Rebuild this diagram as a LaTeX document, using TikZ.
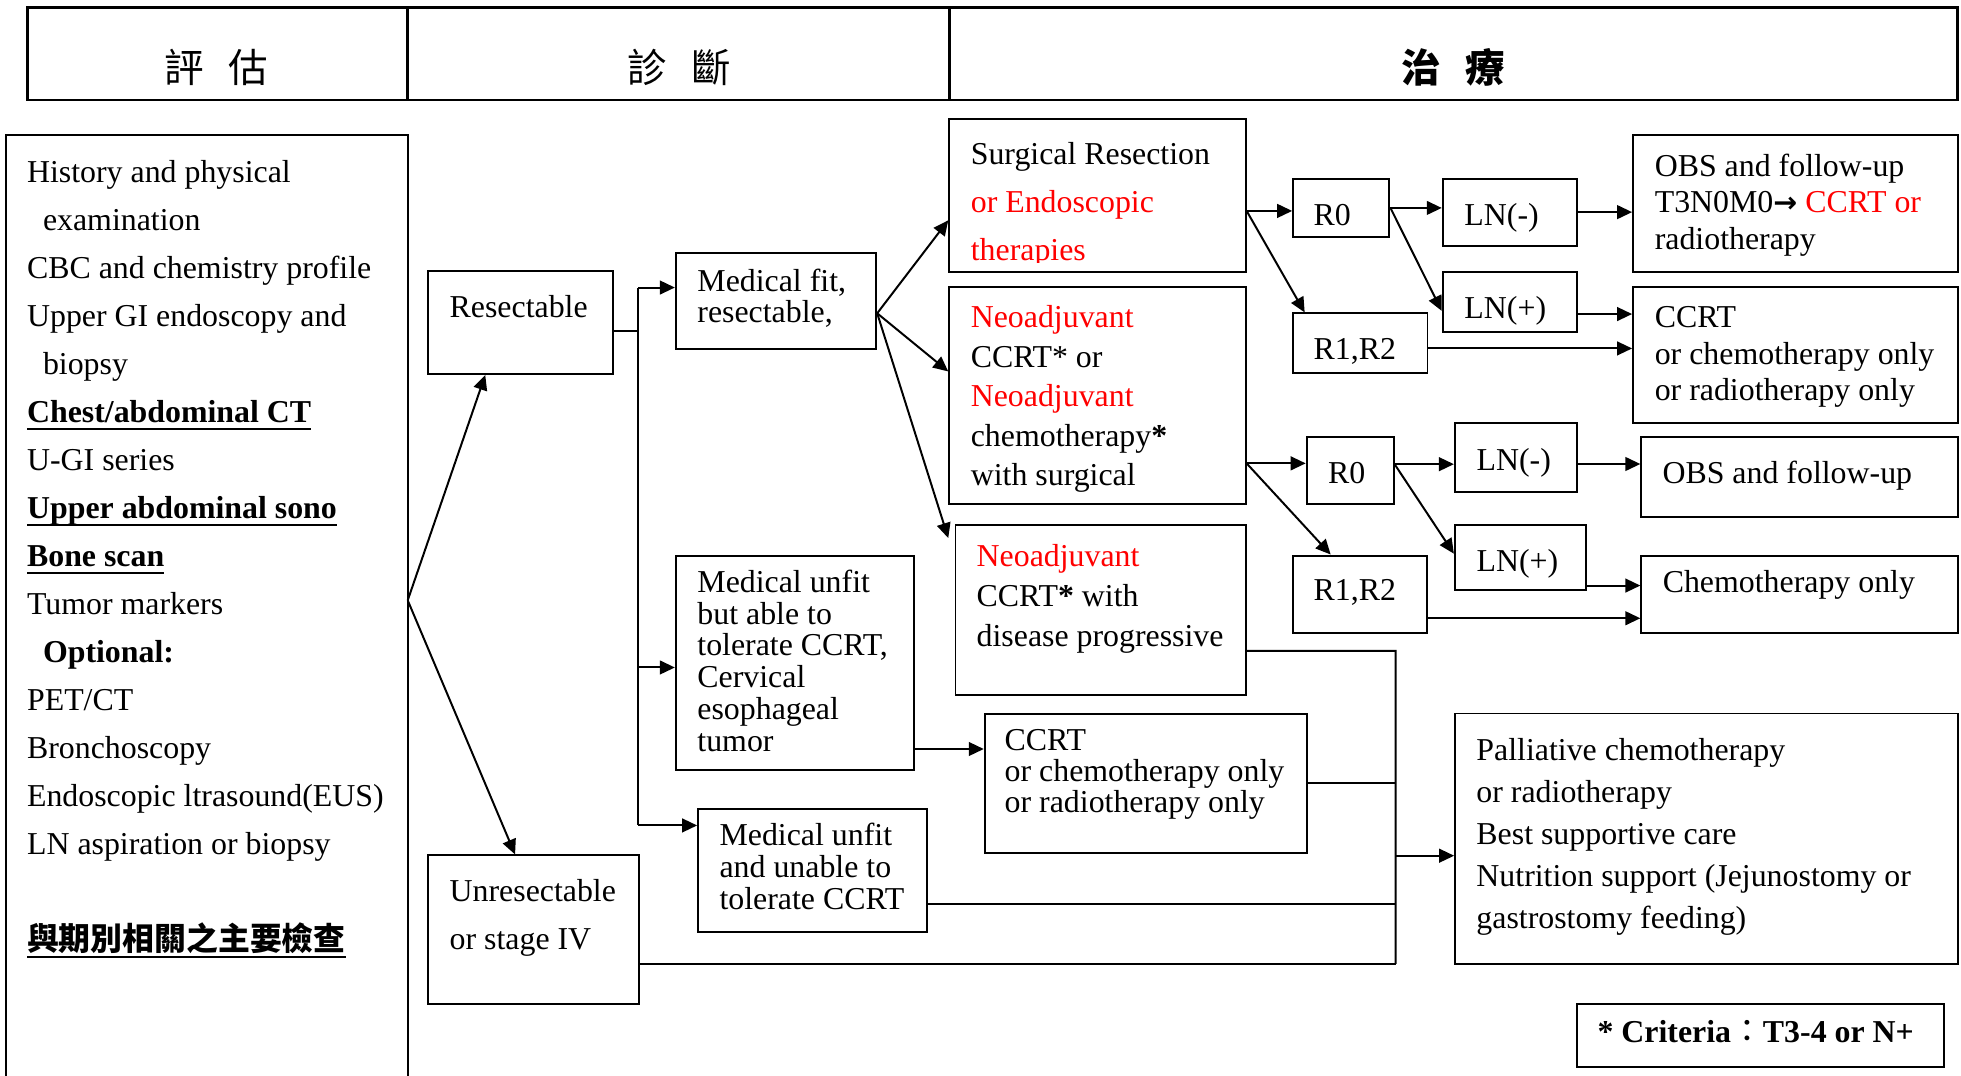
\documentclass[tikz,border=0pt]{standalone}
\usepackage{fontspec}
\setmainfont{Liberation Serif}
\newfontfamily\cjk{Noto Sans CJK TC}
\newfontfamily\symf{DejaVu Sans}
\usetikzlibrary{arrows.meta,fit,positioning}
\newsavebox\ulbox
\newcommand{\undl}[1]{\sbox\ulbox{#1}\rlap{\rule[-3.4pt]{\wd\ulbox}{1.1pt}}\usebox\ulbox}
\newcommand{\rd}[1]{\textcolor{red}{#1}}

\begin{document}
\begin{tikzpicture}[x=0.02cm, y=-0.02cm,
    box/.style={draw, line width=0.9pt, inner sep=0pt},
    txt/.style={anchor=north west, inner sep=0pt, align=left, font=\fontsize{14.5}{#1}\selectfont},
    txt/.default=17,
    hd/.style={inner sep=0pt, font=\cjk\fontsize{18}{20}\selectfont},
    ln/.style={line width=0.9pt},
    arr/.style={line width=0.9pt, -{Triangle[length=0.24cm, width=0.22cm]}}]
\useasboundingbox (0,0) rectangle (1568,860);

\node[box, line width=1.2pt, fit={(22,6) (326,80)}] (h1) {};
\node[box, line width=1.2pt, fit={(326,6) (759,80)}] (h2) {};
\node[box, line width=1.2pt, fit={(759,6) (1565,80)}] (h3) {};
\node[hd] (h1t) at (173,54) {評\hspace{0.4cm}估};
\node[hd] (h2t) at (543,54) {診\hspace{0.4cm}斷};
\node[hd, font=\cjk\bfseries\fontsize{18}{20}\selectfont] (h3t) at (1162,54) {治\hspace{0.4cm}療};

\node[box, fit={(5,108) (326,900)}] (lbox) {};
\node[txt=21.85] (lboxt) at (21.3,127.8) {History and physical\\
\hspace{0.5em}examination\\
CBC and chemistry profile\\
Upper GI endoscopy and\\
\hspace{0.5em}biopsy\\
\textbf{\undl{Chest/abdominal CT}}\\
U-GI series\\
\textbf{\undl{Upper abdominal sono}}\\
\textbf{\undl{Bone scan}}\\
Tumor markers\\
\hspace{0.5em}\textbf{Optional:}\\
PET/CT\\
Bronchoscopy\\
Endoscopic ltrasound(EUS)\\
LN aspiration or biopsy\\[21.85pt]
{\cjk\bfseries\undl{與期別相關之主要檢查}}};

\node[box, fit={(342,217) (490,299)}] (res) {};
\node[txt] (rest) at (359.2,235.8) {Resectable};
\node[box, fit={(342,684) (510.7,802.4)}] (unres) {};
\node[txt=22] (unrest) at (359.2,702.5) {Unresectable\\or stage IV};
\node[box, fit={(540.4,202) (700.6,279)}] (mfit) {};
\node[txt=14.4] (mfitt) at (557.3,214.5) {Medical fit,\\resectable,};
\node[box, fit={(540.4,444.4) (731.2,615.4)}] (unfitA) {};
\node[txt=14.5] (unfitAt) at (557.3,455.2) {Medical unfit\\but able to\\tolerate CCRT,\\Cervical\\esophageal\\tumor};
\node[box, fit={(558.2,647.2) (741.6,745)}] (unfitB) {};
\node[txt=14.5] (unfitBt) at (575,658.1) {Medical unfit\\and unable to\\tolerate CCRT};

\node[box, fit={(759,95) (996,217.3)}] (surg) {};
\begin{scope}
\clip (759,95) rectangle (996,209.5);
\node[txt=21.85] (surgt) at (775.9,113.7) {Surgical Resection\\\rd{or Endoscopic}\\\rd{therapies}};
\end{scope}
\node[box, fit={(759,229.3) (996,402.7)}] (neoA) {};
\node[txt=18] (neoAt) at (775.9,243.8) {\rd{Neoadjuvant}\\CCRT* or\\\rd{Neoadjuvant}\\chemotherapy\textbf{*}\\with surgical};
\node[box, fit={(764,420) (996,555.8)}] (neoB) {};
\node[txt=18.15] (neoBt) at (780.6,434.8) {\rd{Neoadjuvant}\\CCRT\textbf{*} with\\disease progressive};
\node[box, fit={(787.4,570.8) (1045.3,681.7)}] (ccrtM) {};
\node[txt=14.2] (ccrtMt) at (803,582.9) {CCRT\\or chemotherapy only\\or radiotherapy only};

\node[box, fit={(1034,143.2) (1111,189.3)}] (rzA) {};
\node[txt] (rzAt) at (1050,162.8) {R0};
\node[box, fit={(1034,250.6) (1141.4,298.6)}] (rrA) {};
\node[txt] (rrAt) at (1050,269.9) {R1,R2};
\node[box, fit={(1153.6,142.9) (1261.3,196.3)}] (lnnA) {};
\node[txt] (lnnAt) at (1170.6,162.3) {LN(-)};
\node[box, fit={(1153.6,217.1) (1261.3,265.1)}] (lnpA) {};
\node[txt] (lnpAt) at (1170.6,236.6) {LN(+)};
\node[box, fit={(1305.8,107.7) (1565.3,217.1)}] (obsA) {};
\node[txt=16.7] (obsAt) at (1322.8,122.5) {OBS and follow-up\\T3N0M0{\symf\bfseries\fontsize{13}{16}\selectfont →} \rd{CCRT or}\\radiotherapy};
\node[box, fit={(1305.8,229.4) (1565.3,338.6)}] (ccrtR) {};
\node[txt=16.7] (ccrtRt) at (1322.8,244.5) {CCRT\\or chemotherapy only\\or radiotherapy only};

\node[box, fit={(1044.8,349.4) (1114.3,402.9)}] (rzB) {};
\node[txt] (rzBt) at (1061.5,369.1) {R0};
\node[box, fit={(1163.3,338.6) (1261.3,393.4)}] (lnnB) {};
\node[txt] (lnnBt) at (1180.3,358) {LN(-)};
\node[box, fit={(1163.3,420) (1267.9,471.4)}] (lnpB) {};
\node[txt] (lnpBt) at (1180.3,438.9) {LN(+)};
\node[box, fit={(1033.8,444.2) (1141.2,506.5)}] (rrB) {};
\node[txt] (rrBt) at (1050,462.8) {R1,R2};
\node[box, fit={(1312.4,349.4) (1565.3,413.7)}] (obsB) {};
\node[txt] (obsBt) at (1329,368.2) {OBS and follow-up};
\node[box, fit={(1312.4,444.2) (1565.3,506.5)}] (chemo) {};
\node[txt] (chemot) at (1329.2,456) {Chemotherapy only};
\node[box, fit={(1163.5,570.5) (1565.5,771)}] (pall) {};
\node[txt=19.2] (pallt) at (1180.2,589.7) {Palliative chemotherapy\\or radiotherapy\\Best supportive care\\Nutrition support (Jejunostomy or\\gastrostomy feeding)};
\node[box, fit={(1261,802.7) (1554.7,853.5)}] (crit) {};
\node[txt, font=\bfseries\fontsize{14.5}{17}\selectfont] (critt) at (1277,815.5) {* Criteria{\cjk\mdseries ：}T3-4 or N+};

\coordinate (split) at (326,480);
\draw[arr] (split) -- ([xshift=-0.56cm]res.south);
\draw[arr] (split) -- ([xshift=-0.29cm]unres.north);

\coordinate (tR) at (510.4,264.5);
\coordinate (tA) at (510.4,229.9);
\coordinate (tB) at (510.4,533.7);
\coordinate (tC) at (510.4,660);
\draw[ln] (res.east |- tR) -- (tR);
\draw[ln] (tA) -- (tC);
\draw[arr] (tA) -- (tA -| mfit.west);
\draw[arr] (tB) -- (tB -| unfitA.west);
\draw[arr] (tC) -- (tC -| unfitB.west);

\coordinate (fo) at ([yshift=-0.2cm]mfit.east);
\draw[arr] (fo) -- ([yshift=-0.4cm]surg.west);
\draw[arr] (fo) -- ([yshift=0.38cm]neoA.west);
\draw[arr] (fo) -- ([xshift=-0.1cm,yshift=-0.22cm]neoB.north west);

\coordinate (so) at ([yshift=-0.25cm]surg.east);
\draw[arr] (so) -- (so -| rzA.west);
\draw[arr] (so) -- ([xshift=0.2cm]rrA.north west);
\draw[arr] (rzA.east) -- (rzA.east -| lnnA.west);
\draw[arr] (rzA.east) -- ([yshift=-0.15cm]lnpA.west);
\draw[arr] (lnnA.east) -- (lnnA.east -| obsA.west);
\coordinate (pa) at ([yshift=-0.2cm]lnpA.east);
\draw[arr] (pa) -- (pa -| ccrtR.west);
\coordinate (qa) at ([yshift=-0.08cm]rrA.east);
\draw[arr] (qa) -- (qa -| ccrtR.west);

\coordinate (no) at ([yshift=-1.09cm]neoA.east);
\draw[arr] (no) -- (no -| rzB.west);
\draw[arr] (no) -- ([xshift=0.62cm]rrB.north west);
\coordinate (rb) at ([yshift=0.1cm]rzB.east);
\draw[arr] (rb) -- (rb -| lnnB.west);
\draw[arr] (rb) -- ([yshift=0.06cm]lnpB.west);
\coordinate (nb) at ([yshift=-0.1cm]lnnB.east);
\draw[arr] (nb) -- (nb -| obsB.west);
\coordinate (pb) at ([yshift=-0.45cm]lnpB.east);
\draw[arr] (pb) -- (pb -| chemo.west);
\coordinate (qb) at ([yshift=-0.38cm]rrB.east);
\draw[arr] (qb) -- (qb -| chemo.west);

\coordinate (ua) at ([yshift=-1.38cm]unfitA.east);
\draw[arr] (ua) -- (ua -| ccrtM.west);

\coordinate (vT) at (1116,520.5);
\coordinate (vB) at (1116,770.7);
\coordinate (vP) at (1116,684.2);
\draw[ln] ([yshift=-0.65cm]neoB.east) -- (vT) -- (vB);
\draw[ln] (ccrtM.east) -- (ccrtM.east -| vT);
\coordinate (ub) at ([yshift=-0.53cm]unfitB.east);
\draw[ln] (ub) -- (ub -| vT);
\coordinate (uu) at ([yshift=-0.55cm]unres.east);
\draw[ln] (uu) -- (uu -| vT);
\draw[arr] (vP) -- (vP -| pall.west);
\end{tikzpicture}
\end{document}
